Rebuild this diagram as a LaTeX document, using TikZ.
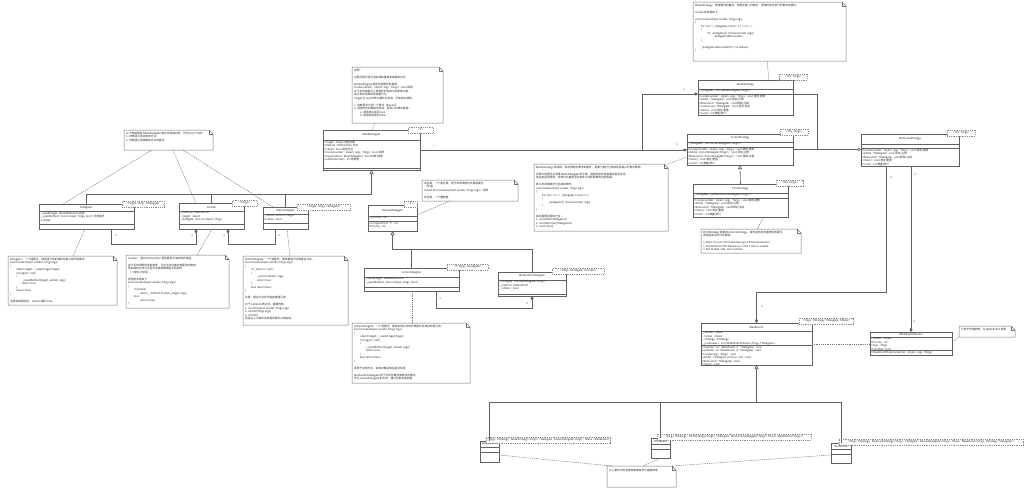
\documentclass[tikz,border=0pt]{standalone}
\usepackage{fontspec}
\setmainfont{Noto Sans CJK SC}
\usetikzlibrary{calc,arrows.meta}

\newcommand\ind{\hspace*{6pt}}
% class box: name, (x,y), width, height, title height, attribute height, title, attributes, methods
\newcommand\umlclass[9]{%
  \node[classbox, minimum width=#3pt, minimum height=#4pt] (#1) at #2 {};
  \node[classname] (#1-n) at ($(#1.north)+(0,#5/2)$) {#7};
  \draw[umlline] ($(#1.north west)+(0,#5)$) -- ($(#1.north east)+(0,#5)$);
  \draw[umlline] ($(#1.north west)+(0,#5+#6)$) -- ($(#1.north east)+(0,#5+#6)$);
  \node[classtext] (#1-a) at ($(#1.north west)+(1,#5+0.6)$) {#8};
  \node[classtext] (#1-m) at ($(#1.north west)+(1,#5+#6+0.6)$) {#9};
}
% note with folded corner: name, (x,y), width, height, text
\newcommand\umlnote[5]{%
  \node[notebox, minimum width=#3pt, minimum height=#4pt] (#1) at #2 {};
  \draw[noteline] (#1.north west) -- ($(#1.north east)+(-4,0)$) -- ($(#1.north east)+(0,4)$) -- (#1.south east) -- (#1.south west) -- cycle;
  \draw[noteline, fill=none] ($(#1.north east)+(-4,0)$) -- ($(#1.north east)+(-4,4)$) -- ($(#1.north east)+(0,4)$);
  \node[notetext] (#1-t) at ($(#1.north west)+(2,2)$) {#5};
}
% template parameter box: name, (x,y), width, text
\newcommand\umltpl[4]{\node[tplbox, minimum width=#3pt] (#1) at #2 {#4};}

\tikzset{
  umlline/.style={draw=black!62, line width=0.6pt},
  gen/.style={umlline, -{Triangle[open, length=4pt, width=4pt, fill=white]}},
  comp/.style={umlline, -{Diamond[length=4.5pt, width=3pt]}},
  aggr/.style={umlline, -{Diamond[open, length=4.5pt, width=3pt, fill=white]}},
  notelink/.style={draw=black!55, line width=0.5pt, dash pattern=on 1.2pt off 1pt},
  classbox/.style={draw=black!62, line width=0.6pt, fill=white, anchor=north west, inner sep=0pt, outer sep=0pt},
  notebox/.style={anchor=north west, inner sep=0pt, outer sep=0pt},
  noteline/.style={draw=black!55, line width=0.5pt, fill=white},
  tinytext/.style={font=\fontsize{2.7}{3.5}\selectfont, text=black!85},
  classname/.style={tinytext, inner sep=0pt},
  classtext/.style={tinytext, anchor=north west, align=left, inner sep=0pt},
  notetext/.style={tinytext, anchor=north west, align=left, inner sep=0pt},
  tplbox/.style={tinytext, draw=black!45, line width=0.4pt, dash pattern=on 0.9pt off 0.9pt, fill=white, anchor=north west, inner sep=0.8pt, minimum height=5.5pt},
  mult/.style={tinytext, inner sep=0pt},
}

\begin{document}
\begin{tikzpicture}[x=1pt, y=-1pt]
\fill[white] (0,0) rectangle (1024,491);
\useasboundingbox (0,0) rectangle (1024,491);

%%%%% delegates %%%%%
\umlclass{wdel}{(323,130)}{97}{40}{10}{28}{WeakDelegate}{+Target : object 目标对象\\+Method : MethodInfo 方法\\+IsAlive : bool 是否存活\\+Invoke(sender : object, args : TArgs) : bool 调用\\+Equals(other : WeakDelegate) : bool 判断,相等\\+GetHashCode() : int 哈希值}{}
\umltpl{wdelT}{(408,127)}{25}{<T>}

\umlclass{dlgr}{(39,204)}{95}{25}{7}{13}{Delegator}{-\_weakTarget : WeakReference 目标\\-\_openMethod : Func<object, TArgs, bool> 开放委托\\-Create()}{}
\umltpl{dlgrT}{(122,201)}{42}{<Target, TArgs, TDelegate>}
\umlclass{invk}{(179,203)}{65}{26}{8}{13}{Invoker}{-\_method : MethodInfo\\-\_target : object\\-\_delegate : Action<object, TArgs>}{}
\umltpl{invkT}{(232,200)}{25}{<TArgs>}
\umlclass{stat}{(263,207)}{45}{22}{7}{9}{StaticDelegate}{-\_action : Action<TArgs>\\+IsAlive : bool}{}
\umltpl{statT}{(297,204)}{53}{<Target, TArgs, TDelegate>}

\umlclass{deriv}{(368,205)}{49}{26}{11}{5}{DerivedDelegate}{-\_priority : int}{+CompareTo(d : T) : int\\+Priority : int}
\umltpl{derivT}{(404,201)}{13}{<T>}
\umlclass{actd}{(364,268)}{95}{23}{9}{10}{ActionDelegate}{-\_weakTarget : WeakReference\\-\_openMethod : Func<object, TArgs, bool>}{}
\umltpl{actdT}{(447,264)}{41}{<T, TArgs, TDelegate>}
\umlclass{mind}{(498,272)}{68}{24}{8}{14}{MethodInfoDelegate}{-\_delegate : DerivedDelegate<TArgs>\\-\_method : MethodInfo\\-\_isStatic : bool}{}
\umltpl{mindT}{(552,268)}{52}{<TArgs, TDelegate, TInvoker>}

%%%%% strategies %%%%%
\umlclass{wstr}{(698,80)}{95}{35}{9}{5}{WeakStrategy}{-\_delegates : List<WeakDelegate<TArgs>{}>}{+Invoke(sender : object, args : TArgs) : void 调用,通知\\+Add(d : TDelegate) : void 添加,注册\\+Remove(d : TDelegate) : void 移除,注销\\+Contains(d : TDelegate) : bool 是否,包含\\+Clear() : void 清空,重置\\+Count : int 数量,统计}
\umltpl{wstrT}{(779,74)}{28}{<Tbx, TArgs>}
\umlclass{astr}{(687,134)}{106}{31}{8}{5}{ActionStrategy}{-\_delegates : List<ActionDelegate<TArgs>{}>}{+Invoke(sender : object, args : TArgs) : void 调用,通知\\+Add(d : ActionDelegate<TArgs>) : void 添加,注册\\+Remove(d : ActionDelegate<TArgs>) : void 移除,注销\\+Clear() : void 清空,重置\\+Count : int 数量,统计}
\umltpl{astrT}{(780,129)}{28}{<Tbx, TArgs>}
\umlclass{mstr}{(861,134)}{98}{32}{10}{4}{MulticastStrategy}{}{+Invoke(sender : object, args : TArgs) : void 调用,通知\\+Add(d : TDelegate) : void 添加,注册\\+Remove(d : TDelegate) : void 移除,注销\\+Clear() : void 清空,重置\\+Count : int 数量,统计}
\umltpl{mstrT}{(947,130)}{28}{<Tbx, TArgs>}
\umlclass{fstr}{(693,184)}{95}{33}{9}{5}{FIFOStrategy}{-\_delegates : Queue<ActionDelegate<TArgs>{}>}{+Invoke(sender : object, args : TArgs) : void 调用,通知\\+Add(d : TDelegate) : void 添加,注册\\+Remove(d : TDelegate) : void 移除,注销\\+Clear() : void 清空,重置\\+Count : int 数量,统计}
\umltpl{fstrT}{(776,180)}{27}{<Tbx, TArgs>}

%%%%% events %%%%%
\umlclass{wevt}{(701,323)}{111}{42}{8}{14}{WeakEvent}{-\_sender : object\\-\_locker : object\\-\_strategy : TStrategy\\-\_parameters : List<WeakEventParams<TArgs, TDelegate>{}>}{+operator +(e : WeakEvent, d : TDelegate) : void\\+operator -(e : WeakEvent, d : TDelegate) : void\\+Invoke(args : TArgs) : void\\+Add(d : TDelegate, priority : int) : void\\+Remove(d : TDelegate) : bool\\+Clear() : void}
\umltpl{wevtT}{(799,318)}{54}{<TArgs, TStrategy, TDelegate, TWeak>}
\umlclass{wprm}{(870,332)}{82}{23}{5}{13}{WeakEventParams}{+Sender : object\\+Priority : int\\+Args : TArgs\\+Handled : bool}{+WeakEventParams(sender : object, args : TArgs)}

\umlclass{kevA}{(480,441)}{19}{21}{6}{5}{SimpleEvent}{}{}
\umltpl{kevAT}{(486,437)}{122}{<TArgs, TStrategy : WeakStrategy<TArgs>, TDelegate : ActionDelegate<TArgs>, TBase : WeakEvent>}
\umlclass{kevB}{(651,438)}{19}{20}{6}{5}{FIFOEvent}{}{}
\umltpl{kevBT}{(657,434)}{154}{<TArgs, TStrategy : FIFOStrategy<TArgs>, TDelegate : MethodInfoDelegate<TArgs>, TBase : WeakEvent<TArgs>{}>}
\umlclass{kevC}{(831,443)}{20}{20}{6}{5}{MultiEvent}{}{}
\umltpl{kevCT}{(839,439)}{184}{<TArgs, TStrategy : MulticastStrategy<TArgs>, TDelegate : DerivedDelegate<TArgs>, TBase : WeakEvent<TArgs, TStrategy, TDelegate>{}>}

%%%%% notes %%%%%
\umlnote{ntBase}{(352,67)}{91}{56}{说明：\\~\\对委托进行弱引用封装的基类及其使用方式\\~\\WeakDelegate 是所有弱委托的基类，\\Invoke(sender : object, args : TArgs) : bool 调用\\以下实现的是对上层委托的包装与判断等功能，\\由子类实现具体的调用行为。\\Target 为 null 时表示委托已失效，不能再次调用。\\~\\1. 判断是否为同一个委托（Equals）\\2. 调用时先判断是否存活，否则从列表中移除：\\\ind a. 调用成功返回 true\\\ind b. 调用失败返回 false}
\umlnote{ntKinds}{(124,130)}{89}{20}{以下类继承自 WeakDelegate 类并实现其功能，可分为以下三种：\\1. 存放弱引用对象的方法\\2. 存放强引用及静态方法的委托}
\umlnote{ntDlgr}{(8,256)}{109}{49}{Delegator：一个弱委托，保存弱引用的目标对象以及开放委托。\\bool Invoke(object sender, TArgs args)\\\{\\\ind object target = \_weakTarget.Target;\\\ind if (target != null)\\\ind \{\\\ind\ind \_openMethod(target, sender, args);\\\ind\ind return true;\\\ind \}\\\ind return false;\\\}\\~\\当目标被回收后，IsAlive 返回 false。}
\umlnote{ntInvk}{(126,255)}{103}{53}{Invoker：通过 MethodInfo 调用目标方法的委托类型。\\~\\由于反射调用的性能较低，只在无法创建开放委托时使用，\\例如目标方法为泛型方法或参数类型不匹配时\\（一般较少出现）。\\~\\调用的实现如下：\\bool Invoke(object sender, TArgs args)\\\{\\\ind if (IsAlive)\\\ind\ind return \_method.Invoke(\_target, args);\\\ind else\\\ind\ind return false;\\\}}
\umlnote{ntStat}{(243,256)}{105}{69}{StaticDelegate：一个强委托，保存静态方法或匿名方法。\\bool Invoke(object sender, TArgs args)\\\{\\\ind if (\_action != null)\\\ind \{\\\ind\ind \_action(sender, args);\\\ind\ind return true;\\\ind \}\\\ind else return false;\\\}\\~\\注意：匿名方法的闭包会被强引用。\\~\\对于 Lambda 表达式，需要判断：\\1. void M(object sender, TArgs args)\\2. void M(TArgs args)\\3. void M()\\因此以上三种形式的委托都可以被包装。}
\umlnote{ntDeriv}{(422,180)}{96}{21}{派生类：一个委托类，用于实现带有优先级的委托\\（可选）：\\virtual bool Invoke(object sender, TArgs args) : 调用\\~\\优先级：一个整数值}
\umlnote{ntActd}{(352,323)}{118}{60}{ActionDelegate：一个弱委托，保存实例方法的开放委托及目标的弱引用。\\bool Invoke(object sender, TArgs args)\\\{\\\ind object target = \_weakTarget.Target;\\\ind if (target != null)\\\ind \{\\\ind\ind \_openMethod(target, sender, args);\\\ind\ind return true;\\\ind \}\\\ind else return false;\\\}\\~\\适用于实例方法，目标对象回收后自动失效。\\~\\MethodInfoDelegate 用于无法创建开放委托的情况，\\作为 ActionDelegate 的补充，通过反射完成调用。}
\umlnote{ntStr}{(534,164)}{134}{67}{WeakStrategy 的实现：依次调用列表中的委托，若某个委托已失效则将其从列表中移除。\\~\\列表中的委托必须是 WeakDelegate 的子类，调用时会先检查委托是否存活，\\再决定是否调用，这样可以避免因为事件订阅而导致的内存泄漏。\\~\\默认的调用顺序为添加的顺序：\\void Invoke(object sender, TArgs args)\\\{\\\ind for (int i = 0; i < \_delegates.Count; i++)\\\ind \{\\\ind\ind \_delegates[i].Invoke(sender, args);\\\ind \}\\\}\\~\\其余需要实现的方法：\\1. void Add(TDelegate d)\\2. void Remove(TDelegate d)\\3. void Clear()}
\umlnote{ntWstr}{(693,2)}{153}{59}{WeakStrategy：管理委托的集合，将委托放入列表中，调用时依次执行列表中的委托。\\~\\Invoke 的实现如下：\\~\\void Invoke(object sender, TArgs args)\\\{\\\ind for (int i = \_delegates.Count - 1; i >= 0; i-{}-)\\\ind \{\\\ind\ind if (!\_delegates[i].Invoke(sender, args))\\\ind\ind\ind \_delegates.RemoveAt(i);\\\ind \}\\~\\\ind \_delegates.RemoveAll(d => !d.IsAlive);\\\}}
\umlnote{ntFifo}{(701,229)}{100}{24}{FIFOStrategy 继承自 ActionStrategy，按先进先出的顺序调用委托，\\调用后即从队列中移除。\\~\\// Note: do not call Invoke during a FIFO enumeration.\\// Implements FIFO behaviour, so this class is sealed.\\// Not thread-safe, lock outside.}
\umlnote{ntPrm}{(959,326)}{56}{11}{只用于传递参数，见 WeakEvent 说明}
\umlnote{ntEvt}{(607,466)}{69}{21}{~\\以上事件均可直接使用或者作为基类继承}

%%%%% generalizations %%%%%
\draw[umlline] (dlgr.north) -- (dlgr.north |- 0,194) -- (wdel.south |- 0,194);
\draw[umlline] (invk.north) -- (invk.north |- 0,194);
\draw[umlline] (stat.north) -- (stat.north |- 0,194);
\draw[gen] (wdel.south |- 0,194) -- (wdel.south);

\draw[umlline] (actd.north) -- (actd.north |- 0,249) -| (mind.north);
\draw[gen] (actd.north |- 0,249) -- (deriv.south |- 0,249) -- (deriv.south);

\draw[gen] (fstr.north) -- (astr.south);

\draw[umlline] (kevA.north) -- (kevA.north |- 0,402) -| (kevC.north);
\draw[umlline] (kevB.north) -- (kevB.north |- 0,402);
\draw[gen] (wevt.south |- 0,402) -- (wevt.south);

%%%%% associations %%%%%
\draw[comp] (wdel.east) -- (wdel.east -| astr.west);
\draw[comp] (wdel.east -| 642,0) -- (642,94) -- (wstr.west |- 0,94);
\draw[aggr] (astr.east) -- (astr.east -| mstr.west);
\coordinate (jnStr) at (817,0 |- astr.east);
\draw[umlline] (wstr.east |- 0,94) -| (jnStr);
\draw[comp] (886,0 |- mstr.south) -- (886,292) -- (wevt.north |- 0,292) -- (wevt.north);
\draw[comp] (wprm.north |- mstr.south) -- (wprm.north);
\draw[notelink] (wevt.east) -- (wevt.east -| wprm.west);

\draw[comp] (111,0 |- dlgr.south) -- (111,244) -- (196,244) -- (196,0 |- invk.south);
\draw[comp] (275,0 |- stat.south) -- (275,244) -- (228,244) -- (228,0 |- invk.south);
\draw[comp] (436,0 |- actd.south) -- (436,308) -- (mind.south |- 0,308) -- (mind.south);

%%%%% note links %%%%%
\draw[notelink] (375,0 |- ntBase.south) -- (372,0 |- wdel.north);
\draw[notelink] (152,0 |- ntKinds.south) -- (63,0 |- dlgr.north);
\draw[notelink] (173,0 |- ntKinds.south) -- (196,0 |- invk.north);
\draw[notelink] (183,0 |- ntKinds.south) -- (273,0 |- stat.north);
\draw[notelink] (73,0 |- ntDlgr.north) -- (85,0 |- dlgr.south);
\draw[notelink] (197,0 |- ntInvk.north) -- (212,0 |- invk.south);
\draw[notelink] (290,0 |- ntStat.north) -- (287,0 |- stat.south);
\draw[notelink] (450,0 |- ntDeriv.south) -- (deriv.east |- 0,215);
\draw[notelink] (412,0 |- ntActd.north) -- (412,0 |- actd.south);
\draw[notelink] (ntStr.north east) -- (astr.west |- 0,157);
\draw[notelink] (767,0 |- ntWstr.south) -- (769,0 |- wstr.north);
\draw[notelink] (757,0 |- ntFifo.north) -- (764,0 |- fstr.south);
\draw[notelink] (wprm.east |- 0,342) -- (ntPrm.south west);
\draw[notelink] (kevA.east |- 0,455) -- (612,0 |- ntEvt.north);
\draw[notelink] (kevB.south) -- (643,0 |- ntEvt.north);
\draw[notelink] (kevC.west |- 0,455) -- (672,0 |- ntEvt.north);

%%%%% multiplicities %%%%%
\node[mult] (mStar) at (434,146) {*};
\node[mult] (mAstr) at (677,145) {1};
\node[mult] (mWstr) at (684,90) {1};
\node[mult] (mDlgr) at (116,236) {1};
\node[mult] (mInvkA) at (192,236) {1};
\node[mult] (mInvkB) at (224,236) {1};
\node[mult] (mStat) at (279,236) {1};
\node[mult] (mActd) at (440,299) {1};
\node[mult] (mMind) at (527,304) {1};
\node[mult] (mMstrA) at (891,178) {1};
\node[mult] (mWevt) at (762,307) {1};
\node[mult] (mMstrB) at (915,175) {1};
\node[mult] (mWprm) at (914,322) {1};
\end{tikzpicture}
\end{document}
